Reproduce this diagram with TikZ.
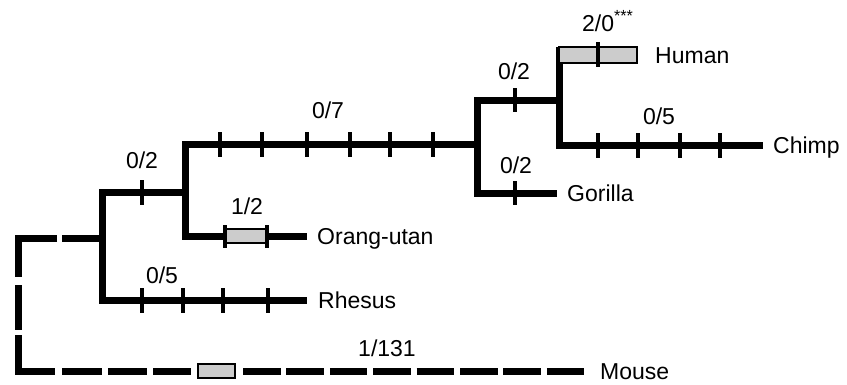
\documentclass[tikz,border=0pt]{standalone}
\usepackage{fontspec}
\setmainfont{Liberation Sans}
\begin{document}
\begin{tikzpicture}[x=1pt,y=-1pt,
  branch/.style={line width=7pt, line cap=butt, line join=miter},
  tk/.style={line width=4pt},
  subst/.style={draw=black, line width=1.6pt, fill=black!20},
  taxon/.style={anchor=base west, inner sep=0pt, font=\fontsize{23}{25}\selectfont},
  lab/.style={anchor=base, inner sep=0pt, font=\fontsize{23}{25}\selectfont}]
\useasboundingbox (0,0) rectangle (847,384);

% junctions
\coordinate (rootT) at (18,238);
\coordinate (rootB) at (18,371);
\coordinate (a) at (102,238);
\coordinate (aT) at (102,192);
\coordinate (aB) at (102,300);
\coordinate (b) at (185,192);
\coordinate (bT) at (185,144);
\coordinate (bB) at (185,236);
\coordinate (c) at (477,144);
\coordinate (cT) at (477,100);
\coordinate (cB) at (477,193);
\coordinate (d) at (559,100);
\coordinate (dT) at (559,47);
\coordinate (dB) at (559,145);
% branch ends
\coordinate (rhE) at (307,300);
\coordinate (orE) at (307,236);
\coordinate (goE) at (557,193);
\coordinate (chE) at (763,145);

% solid branches
\draw[branch] (b) -- (aT) -- (aB) -- (rhE);
\draw[branch] (c) -- (bT) -- (bB) -- (orE);
\draw[branch] (d) -- (cT) -- (cB) -- (goE);
\draw[branch] (dT) -- (dB) -- (chE);

% dashed root / mouse branch
\draw[branch] (57,238) -- (rootT) -- (18,277);
\draw[branch] (62,238) -- (a);
\draw[branch] (18,285) -- (18,330);
\draw[branch] (18,335) -- (rootB) -- (55,371);
\foreach \s/\e in {62/102,108/147,153/191}
  \draw[branch] (\s,371) -- (\e,371);
\foreach \i in {0,...,7}
  \draw[branch] ({243+\i*43.4},371) -- ({243+\i*43.4+37.5},371);

% substitution boxes
\draw[subst] (198,364) rectangle (235,378);
\draw[subst] (225,229) rectangle (267,243);
\draw[tk] (225,225) -- (225,248);
\draw[tk] (267,225) -- (267,248);
\draw[subst] (559,47) rectangle (637,63);
\draw[tk] (598,42) -- (598,67);

% ticks
\foreach \x in {142,183,223,268} \draw[tk] (\x,288) -- (\x,313);
\draw[tk] (142,180) -- (142,205);
\foreach \x in {220,262,307,350,390,433} \draw[tk] (\x,132) -- (\x,157);
\draw[tk] (515,88) -- (515,112);
\draw[tk] (515,181) -- (515,205);
\foreach \x in {598,638,680,720} \draw[tk] (\x,133) -- (\x,158);

% counts
\node[lab] (l1) at (162,283) {0/5};
\node[lab] (l2) at (142,168) {0/2};
\node[lab] (l3) at (247,214) {1/2};
\node[lab] (l4) at (328,118) {0/7};
\node[lab] (l5) at (514,79) {0/2};
\node[lab] (l6) at (516,173) {0/2};
\node[lab] (l7) at (659,124) {0/5};
\node[lab, anchor=base west] (l8) at (582,31) {2/0\textsuperscript{***}};
\node[lab] (l9) at (387,356) {1/131};

% taxa
\node[taxon] (human) at (655,63) {Human};
\node[taxon] (chimp) at (773,153) {Chimp};
\node[taxon] (gorilla) at (567,201) {Gorilla};
\node[taxon] (orang) at (317,244) {Orang-utan};
\node[taxon] (rhesus) at (318,308) {Rhesus};
\node[taxon] (mouse) at (600,379) {Mouse};
\end{tikzpicture}
\end{document}
